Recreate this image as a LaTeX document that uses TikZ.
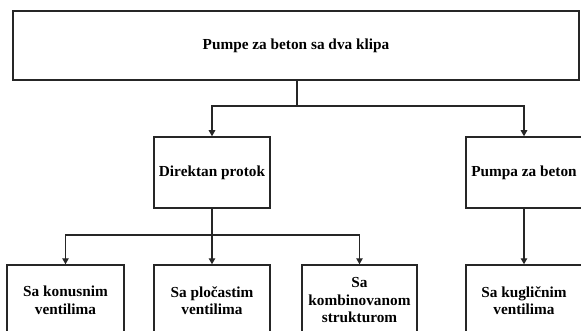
\documentclass[tikz,border=0pt]{standalone}
\usepackage{fontspec}
\setmainfont{Liberation Serif}
\usetikzlibrary{arrows.meta}
\tikzset{
  box/.style={draw=black!85, line width=1.5pt, rectangle, inner sep=0pt,
    align=center, font=\bfseries\fontsize{15.3}{17.5}\selectfont},
  link/.style={draw=black!85, line width=1.2pt},
  arr/.style={link, -{Triangle[length=6pt,width=6.5pt]}}
}
\begin{document}
\begin{tikzpicture}[x=1pt,y=-1pt]
  \useasboundingbox (0,0) rectangle (581,331);
  \clip (0,0) rectangle (581,331);
  % top level
  \node[box, minimum width=566pt, minimum height=69pt] (top) at (296,45.5) {Pumpe za beton sa dva klipa};
  % second level
  \node[box, minimum width=116pt, minimum height=71pt] (dir) at (212,172.5) {Direktan protok};
  \node[box, minimum width=116pt, minimum height=71pt] (pump) at (524,172.5) {Pumpa za beton};
  % third level
  \node[box, minimum width=117pt, minimum height=71pt] (kon) at (65.5,300.5) {Sa konusnim\\ventilima};
  \node[box, minimum width=116pt, minimum height=71pt] (plo) at (212,300.5) {Sa pločastim\\ventilima};
  \node[box, minimum width=115pt, minimum height=71pt] (kom) at (359.5,300.5) {Sa\\kombinovanom\\strukturom};
  \node[box, minimum width=116pt, minimum height=71pt] (kug) at (524,300.5) {Sa kugličnim\\ventilima};
  % junctions
  \coordinate (j1) at (297,106);
  \coordinate (j2) at (212,235);
  % connectors
  \draw[link] (top.south -| j1) -- (j1);
  \draw[arr] (j1) -| (dir.north);
  \draw[arr] (j1) -| (pump.north);
  \draw[link] (dir.south) -- (j2);
  \draw[arr] (j2) -| (kon.north);
  \draw[arr] (j2) -- (plo.north);
  \draw[arr] (j2) -| (kom.north);
  \draw[arr] (pump.south) -- (kug.north);
\end{tikzpicture}
\end{document}
